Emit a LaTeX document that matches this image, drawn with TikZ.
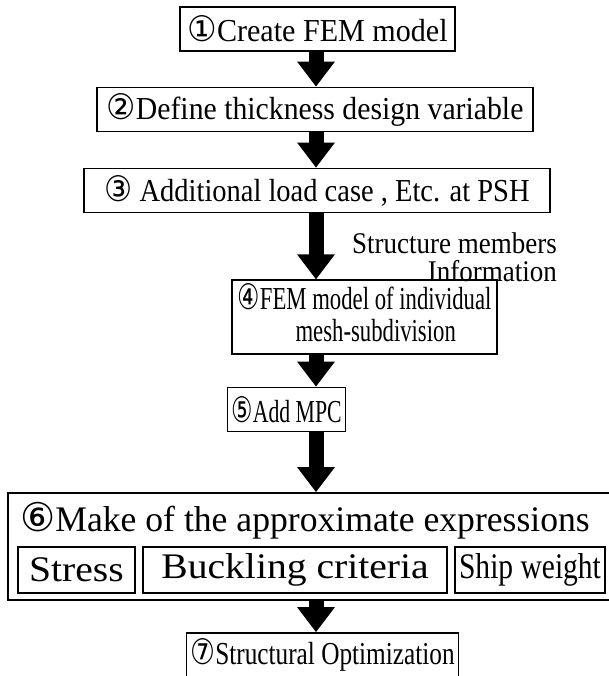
\documentclass[tikz,border=0pt]{standalone}
\usepackage{fontspec}
\setmainfont{Liberation Serif}
\newfontfamily\circfont{DejaVu Sans}[Scale=1.1]
\usetikzlibrary{arrows.meta}

\newcommand{\cnum}[1]{{\circfont #1}}
% squeeze a label sideways to fit its box
\newcommand{\hs}[2]{\scalebox{#1}[1]{#2}}

\begin{document}
\begin{tikzpicture}[x=1pt,y=-1pt,
		stepbox/.style={draw, line width=1.6pt, inner xsep=4pt, minimum height=44pt,
			font=\fontsize{32}{31}\selectfont},
		subbox/.style={draw, line width=1.8pt, inner xsep=2pt, minimum height=46pt,
			font=\fontsize{36}{38}\selectfont},
		bigarrow/.style={line width=15pt, -{Triangle[width=36pt,length=25pt]}}]
	\useasboundingbox (0,0) rectangle (608,676);
	\coordinate (axis) at (316,0);

	% main steps
	\node[stepbox, minimum width=275pt] (b1) at (317.5,29) {\hs{0.94}{\cnum{①}Create FEM model}};
	\node[stepbox, minimum width=436pt] (b2) at (315,109.5) {\hs{0.93}{\cnum{②}Define thickness design variable}};
	\node[stepbox, minimum width=466pt] (b3) at (317,190.5) {\hs{0.89}{\cnum{③} Additional load case , Etc. at PSH}};
	\node[stepbox, minimum width=265pt, minimum height=70pt] (b4) at (364.5,317)
		{\hs{0.71}{\cnum{④}\begin{tabular}[t]{@{}c@{}}FEM model of individual\\mesh-subdivision\end{tabular}}};
	\node[stepbox, minimum width=117pt] (b5) at (286.5,409.5) {\hs{0.68}{\cnum{⑤}Add MPC}};

	% group of approximate expressions
	\node[draw, line width=1.6pt, minimum width=606pt, minimum height=107pt] (b6) at (311,546.5) {};
	\node[anchor=west, inner sep=0pt, font=\fontsize{36}{38}\selectfont] (t6) at (20,521)
		{\hs{0.99}{\cnum{⑥}Make of the approximate expressions}};
	\node[subbox, minimum width=117pt] (s1) at (76.5,570) {\hs{1.1}{Stress}};
	\node[subbox, minimum width=304pt] (s2) at (295,570) {\hs{1.1}{Buckling criteria}};
	\node[subbox, minimum width=150pt] (s3) at (530,570) {\hs{0.82}{Ship weight}};

	\node[stepbox, minimum width=265pt] (b7) at (322.5,655) {\hs{0.79}{\cnum{⑦}Structural Optimization}};

	\foreach \s/\t in {b1/b2, b2/b3, b3/b4, b4/b5, b5/b6, b6/b7}
	{
		\draw[bigarrow] (\s.south -| axis) -- (\t.north -| axis);
	}

	\node[anchor=north east, align=right, inner sep=0pt, font=\fontsize{30}{28}\selectfont] (info) at (557,232)
		{\hs{0.9}{Structure members}\\\hs{0.9}{Information}};

\end{tikzpicture}
\end{document}
